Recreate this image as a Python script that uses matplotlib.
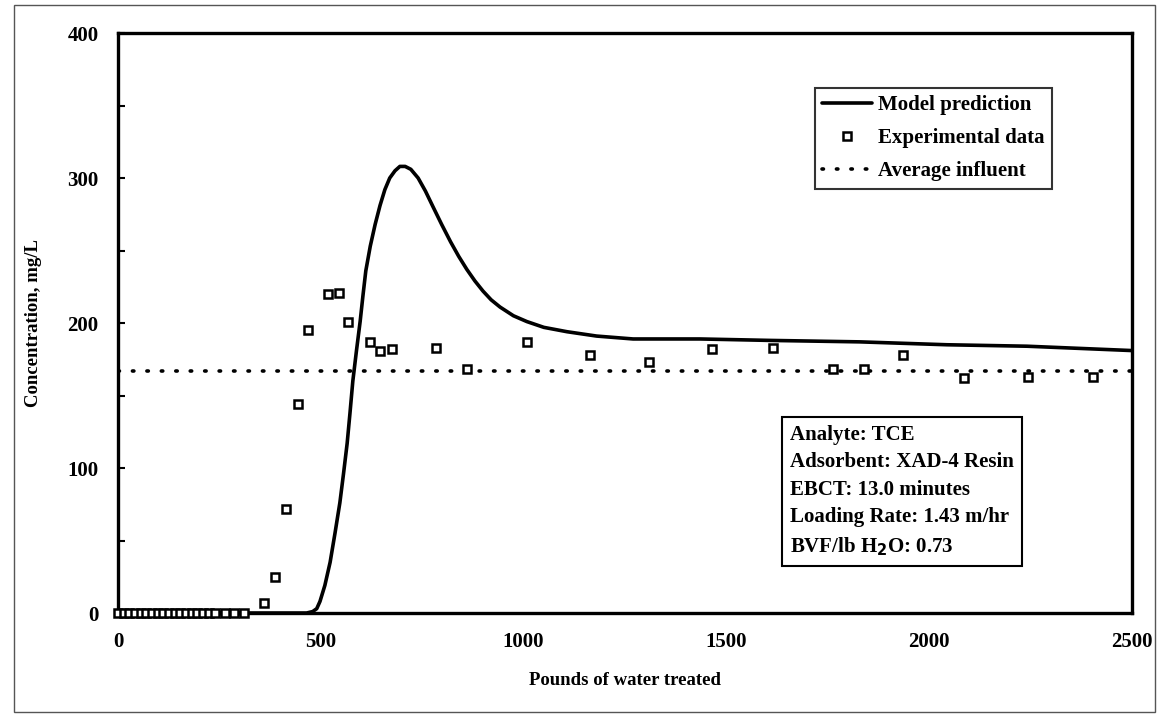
import matplotlib
matplotlib.use("Agg")
import matplotlib.pyplot as plt
from matplotlib.patches import Rectangle

plt.rcParams['font.family'] = ['Liberation Serif', 'DejaVu Serif']
plt.rcParams['font.weight'] = 'bold'

# Model prediction curve (pounds of water, mg/L)
model_x = [0, 300, 465, 480, 490, 498, 510, 523, 535, 547, 556, 565, 572, 579,
           588, 597, 604, 611, 622, 634, 646, 658, 670, 683, 695, 708, 722,
           740, 758, 777, 798, 820, 840, 860, 880, 900, 920, 942, 975, 1008,
           1050, 1107, 1180, 1270, 1435, 1608, 1829, 2044, 2241, 2500]
model_y = [0, 0, 0, 1, 3, 8, 19, 35, 55, 76, 96, 117, 138, 160,
           181, 201, 219, 236, 253, 268, 281, 292, 300, 305, 308, 308, 306,
           300, 291, 280, 268, 256, 246, 237, 229, 222, 216, 211, 205, 201,
           197, 194, 191, 189, 189, 188, 187, 185, 184, 181]

# Experimental data
exp_x = [0, 14, 28, 42, 56, 70, 84, 98, 112, 126, 140, 154, 168, 182, 196,
         210, 225, 240, 265, 285, 310,
         360, 387, 414, 444, 468, 518, 545, 567, 621, 646, 676, 784, 860,
         1008, 1164, 1309, 1464, 1615, 1763, 1839, 1935, 2086, 2244, 2404]
exp_y = [0, 0, 0, 0, 0, 0, 0, 0, 0, 0, 0, 0, 0, 0, 0,
         0, 0, 0, 0, 0, 0,
         7, 25, 72, 144, 195, 220, 221, 201, 187, 181, 182, 183, 168,
         187, 178, 173, 182, 183, 168, 168, 178, 162, 163, 163]

avg_influent = 167
x_ticks = [0, 500, 1000, 1500, 2000, 2500]
y_ticks = [0, 100, 200, 300, 400]

info_lines = ["Analyte: TCE",
              "Adsorbent: XAD-4 Resin",
              "EBCT: 13.0 minutes",
              "Loading Rate: 1.43 m/hr",
              "BVF/lb H$_\\mathbf{2}$O: 0.73"]

fig = plt.figure(figsize=(11.66, 7.24), dpi=100)
ax = fig.add_axes([0.1012, 0.1533, 0.8696, 0.8011])

ax.plot(model_x, model_y, color='black', linewidth=2.6, label='Model prediction',
        solid_capstyle='round', solid_joinstyle='round')
ax.plot(exp_x, exp_y, linestyle='none', marker='s', markersize=5.5,
        markerfacecolor='white', markeredgecolor='black', markeredgewidth=1.8,
        label='Experimental data', clip_on=False, zorder=4)
ax.plot([0, 2500], [avg_influent, avg_influent], color='black', linewidth=2.6,
        linestyle=(0, (0.4, 3.6)), dash_capstyle='round', label='Average influent')

ax.set_xlim(0, 2500)
ax.set_ylim(0, 400)
ax.set_xticks(x_ticks)
ax.set_yticks(y_ticks)
ax.set_yticks(range(50, 400, 100), minor=True)
ax.tick_params(axis='x', length=0, pad=14, labelsize=15)
ax.tick_params(axis='y', which='both', direction='in', length=5, width=1.5,
               pad=14, labelsize=15)
for s in ax.spines.values():
    s.set_linewidth(2.4)

ax.set_ylabel('Concentration, mg/L', fontsize=13.5, fontweight='bold', labelpad=18)
ax.set_xlabel('Pounds of water treated', fontsize=13.5, fontweight='bold', labelpad=14)

leg = ax.legend(loc='upper left', bbox_to_anchor=(0.687, 0.905), fontsize=15,
                frameon=True, fancybox=False, edgecolor='black', handlelength=2.4,
                handletextpad=0.3, borderpad=0.35, labelspacing=0.62,
                borderaxespad=0)
leg.get_frame().set_linewidth(1.5)

ax.text(0.663, 0.325, "\n".join(info_lines), transform=ax.transAxes,
        fontsize=15, va='top', ha='left', linespacing=1.5,
        bbox=dict(boxstyle='square,pad=0.4', facecolor='white',
                  edgecolor='black', linewidth=1.5))

fig.patches.append(Rectangle((14 / 1166, 12 / 724), 1141 / 1166, 707 / 724,
                             transform=fig.transFigure, fill=False,
                             edgecolor='#555555', linewidth=1.0))

fig.savefig('out.png', dpi=100)
